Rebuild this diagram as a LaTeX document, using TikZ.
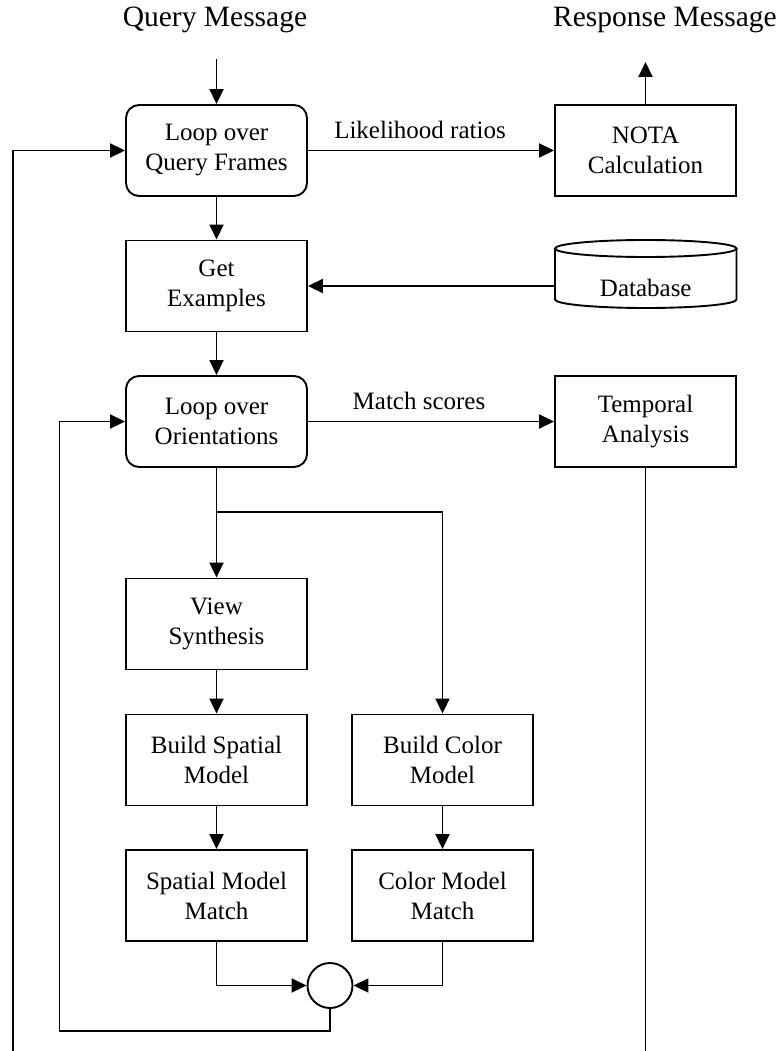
\documentclass[tikz,border=0pt]{standalone}
\usepackage{fontspec}
\setmainfont{Liberation Serif}
\usetikzlibrary{arrows.meta}
\begin{document}
\begin{tikzpicture}[x=1pt,y=-1pt,
  line width=1.9pt,
  every node/.style={font=\fontsize{25}{30}\selectfont, align=center},
  blk/.style={draw, rectangle, minimum width=181pt, minimum height=91pt, inner sep=2pt},
  rblk/.style={blk, rounded corners=13pt},
  ttl/.style={font=\fontsize{29.5}{34}\selectfont},
  lbl/.style={inner sep=0pt},
  arr/.style={-{Triangle[length=15pt,width=14pt]}},
  junc/.style={draw, circle, minimum size=45pt, inner sep=0pt}
]
\useasboundingbox (0,0) rectangle (783,1051);

% titles
\node[ttl] (qmsg) at (215,20) {Query Message};
\node[ttl] (rmsg) at (665,20) {Response Message};

% main column
\node[rblk] (qf)  at (216.5,150.5) {Loop over\\Query Frames};
\node[blk]  (ge)  at (216.5,286)   {Get\\Examples};
\node[rblk] (loo) at (216.5,421.5) {Loop over\\Orientations};
\node[blk]  (vs)  at (216.5,624)   {View\\Synthesis};
\node[blk]  (bsm) at (216.5,760)   {Build Spatial\\Model};
\node[blk]  (smm) at (216.5,895.5) {Spatial Model\\Match};
\node[blk]  (bcm) at (442.5,760)   {Build Color\\Model};
\node[blk]  (cmm) at (442.5,895.5) {Color Model\\Match};
\node[junc] (cj)  at (330,985.5) {};

% right column
\node[blk] (nota) at (645.5,150.5) {NOTA\\Calculation};
\node[blk] (ta)   at (645.5,421.5) {Temporal\\Analysis};

% database cylinder
\draw (555,248.5) -- (555,299.5) arc[start angle=180, end angle=0, x radius=90.75, y radius=8.5] -- (736.5,248.5);
\draw (645.75,248.5) ellipse [x radius=90.75, y radius=8.5];
\node[minimum width=181.5pt, minimum height=40pt, inner sep=0pt] (db) at (645.75,286) {};
\node (dbt) at (645.75,288) {Database};

% labels
\node[lbl] (lr) at (420,130) {Likelihood ratios};
\node[lbl] (ms) at (419,401) {Match scores};

% helper coordinates
\coordinate (qin)  at (216.5,59);
\coordinate (rout) at (645.5,62);
\coordinate (lbot) at (13,1051);
\coordinate (rbot) at (645.5,1051);
\coordinate (br)   at (216.5,512);
\coordinate (lp)   at (59.5,1031);

% connectors
\draw[arr] (qin) -- (qf.north);
\draw[arr] (nota.north) -- (rout);
\draw[arr] (qf.east) -- (nota.west);
\draw[arr] (lbot) |- (qf.west);
\draw[arr] (qf.south) -- (ge.north);
\draw[arr] (db.west) -- (ge.east);
\draw[arr] (ge.south) -- (loo.north);
\draw[arr] (loo.east) -- (ta.west);
\draw (ta.south) -- (rbot);
\draw (loo.south) -- (br);
\draw[arr] (br) -- (vs.north);
\draw[arr] (br) -| (bcm.north);
\draw[arr] (vs.south) -- (bsm.north);
\draw[arr] (bsm.south) -- (smm.north);
\draw[arr] (bcm.south) -- (cmm.north);
\draw[arr] (smm.south) |- (cj.west);
\draw[arr] (cmm.south) |- (cj.east);
\draw[arr] (cj.south) |- (lp) |- (loo.west);
\end{tikzpicture}
\end{document}
